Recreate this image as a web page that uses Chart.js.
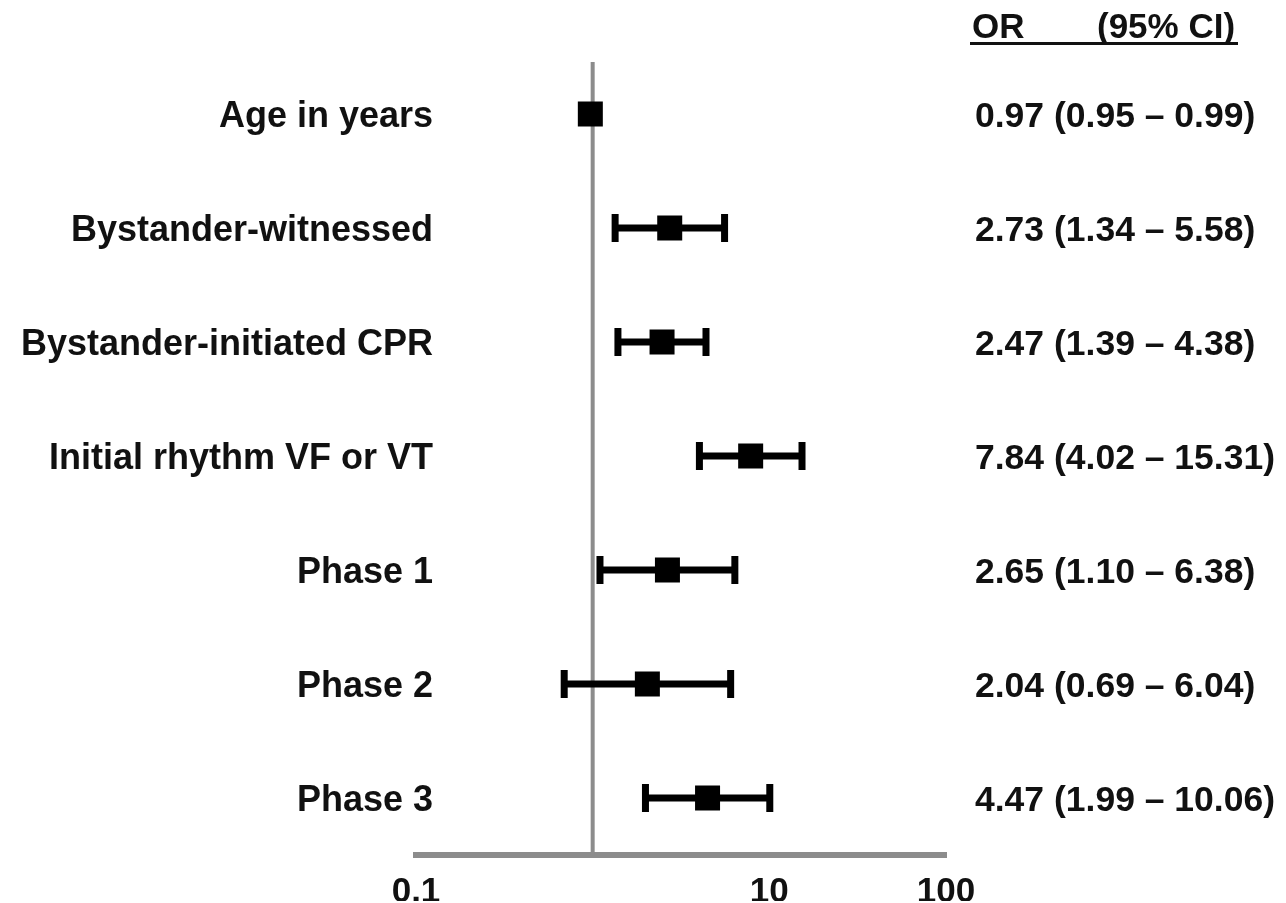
<!DOCTYPE html>
<html>
<head>
<meta charset="utf-8">
<title>Odds ratios</title>
<script src="https://cdn.jsdelivr.net/npm/chart.js@4.4.1/dist/chart.umd.min.js"></script>
<style>
  html, body { margin: 0; padding: 0; background: #fff; }
  #wrap { width: 1286px; height: 903px; position: relative; }
</style>
</head>
<body>
<div id="wrap"><canvas id="forest"></canvas></div>
<script>
// predictors, top to bottom
var categories = ['Age in years', 'Bystander-witnessed', 'Bystander-initiated CPR',
                  'Initial rhythm VF or VT', 'Phase 1', 'Phase 2', 'Phase 3'];
// odds ratios with 95% confidence limits
var orValues = [0.97, 2.73, 2.47, 7.84, 2.65, 2.04, 4.47];
var ciLow    = [0.95, 1.34, 1.39, 4.02, 1.10, 0.69, 1.99];
var ciHigh   = [0.99, 5.58, 4.38, 15.31, 6.38, 6.04, 10.06];
// labelled ticks on the log axis
var tickValues = [0.1, 10, 100];
var tickLabels = ['0.1', '10', '100'];

var FONT = '"Liberation Sans", Arial, Helvetica, sans-serif';
var GREY = '#8c8c8c';
var BOX = 25;   // marker side in px

var points = [];
for (var i = 0; i < categories.length; i++) {
    points.push({ x: orValues[i], y: categories[i] });
}

// whiskers, reference line at OR = 1 and the text columns
var forestPlugin = {
    id: 'forest',
    beforeDatasetsDraw: function(chart) {
        var ctx = chart.ctx, xs = chart.scales.x, ys = chart.scales.y, area = chart.chartArea;
        ctx.save();
        // no-effect line
        var x1 = xs.getPixelForValue(1);
        ctx.strokeStyle = GREY;
        ctx.lineWidth = 4;
        ctx.beginPath();
        ctx.moveTo(x1, area.top + 5);
        ctx.lineTo(x1, area.bottom);
        ctx.stroke();
        // confidence intervals
        ctx.strokeStyle = '#000';
        ctx.lineWidth = 7;
        for (var i = 0; i < categories.length; i++) {
            var y = ys.getPixelForValue(i);
            var a = xs.getPixelForValue(ciLow[i]);
            var b = xs.getPixelForValue(ciHigh[i]);
            if (b - a <= BOX) continue;   // hidden behind the marker anyway
            ctx.beginPath();
            ctx.moveTo(a, y); ctx.lineTo(b, y);
            ctx.moveTo(a, y - 14); ctx.lineTo(a, y + 14);
            ctx.moveTo(b, y - 14); ctx.lineTo(b, y + 14);
            ctx.stroke();
        }
        ctx.restore();
    },
    afterDraw: function(chart) {
        var ctx = chart.ctx, ys = chart.scales.y;
        ctx.save();
        ctx.fillStyle = '#111';
        ctx.textBaseline = 'middle';
        for (var i = 0; i < categories.length; i++) {
            var y = ys.getPixelForValue(i) + 3;
            ctx.font = 'bold 36px ' + FONT;
            ctx.textAlign = 'right';
            ctx.fillText(categories[i], 433, y);
            ctx.font = 'bold 35.5px ' + FONT;
            ctx.textAlign = 'left';
            ctx.fillText(orValues[i].toFixed(2) + ' (' + ciLow[i].toFixed(2) + ' \u2013 ' +
                         ciHigh[i].toFixed(2) + ')', 975, y);
        }
        // column header
        ctx.font = 'bold 35px ' + FONT;
        ctx.textBaseline = 'alphabetic';
        ctx.fillText('OR', 972, 38);
        ctx.fillText('(95% CI)', 1097, 38);
        ctx.fillRect(970, 42, 268, 3);
        ctx.restore();
    }
};

var chart = new Chart(document.getElementById('forest'), {
    type: 'scatter',
    data: {
        datasets: [{
            data: points,
            pointStyle: 'rect',
            pointRadius: BOX / 2 * Math.SQRT2,
            pointHoverRadius: BOX / 2 * Math.SQRT2,
            backgroundColor: '#000',
            borderColor: '#000',
            borderWidth: 0
        }]
    },
    options: {
        responsive: true,
        maintainAspectRatio: false,
        animation: false,
        events: [],
        layout: { padding: { left: 416, right: 340, top: 57, bottom: 2 } },
        plugins: { legend: { display: false }, tooltip: { enabled: false } },
        scales: {
            x: {
                type: 'logarithmic',
                min: 0.1,
                max: 100,
                grid: { display: false },
                border: { display: true, color: GREY, width: 6 },
                afterBuildTicks: function(scale) {
                    scale.ticks = tickValues.map(function(v) { return { value: v }; });
                },
                afterFit: function(scale) { scale.height = 46; },
                ticks: {
                    autoSkip: false,
                    maxRotation: 0,
                    padding: 8,
                    color: '#111',
                    font: { family: FONT, size: 35, weight: 'bold' },
                    callback: function(value) {
                        var k = tickValues.indexOf(value);
                        return k >= 0 ? tickLabels[k] : '';
                    }
                }
            },
            y: {
                type: 'category',
                labels: categories,
                offset: true,
                display: false
            }
        }
    },
    plugins: [forestPlugin]
});
</script>
</body>
</html>
